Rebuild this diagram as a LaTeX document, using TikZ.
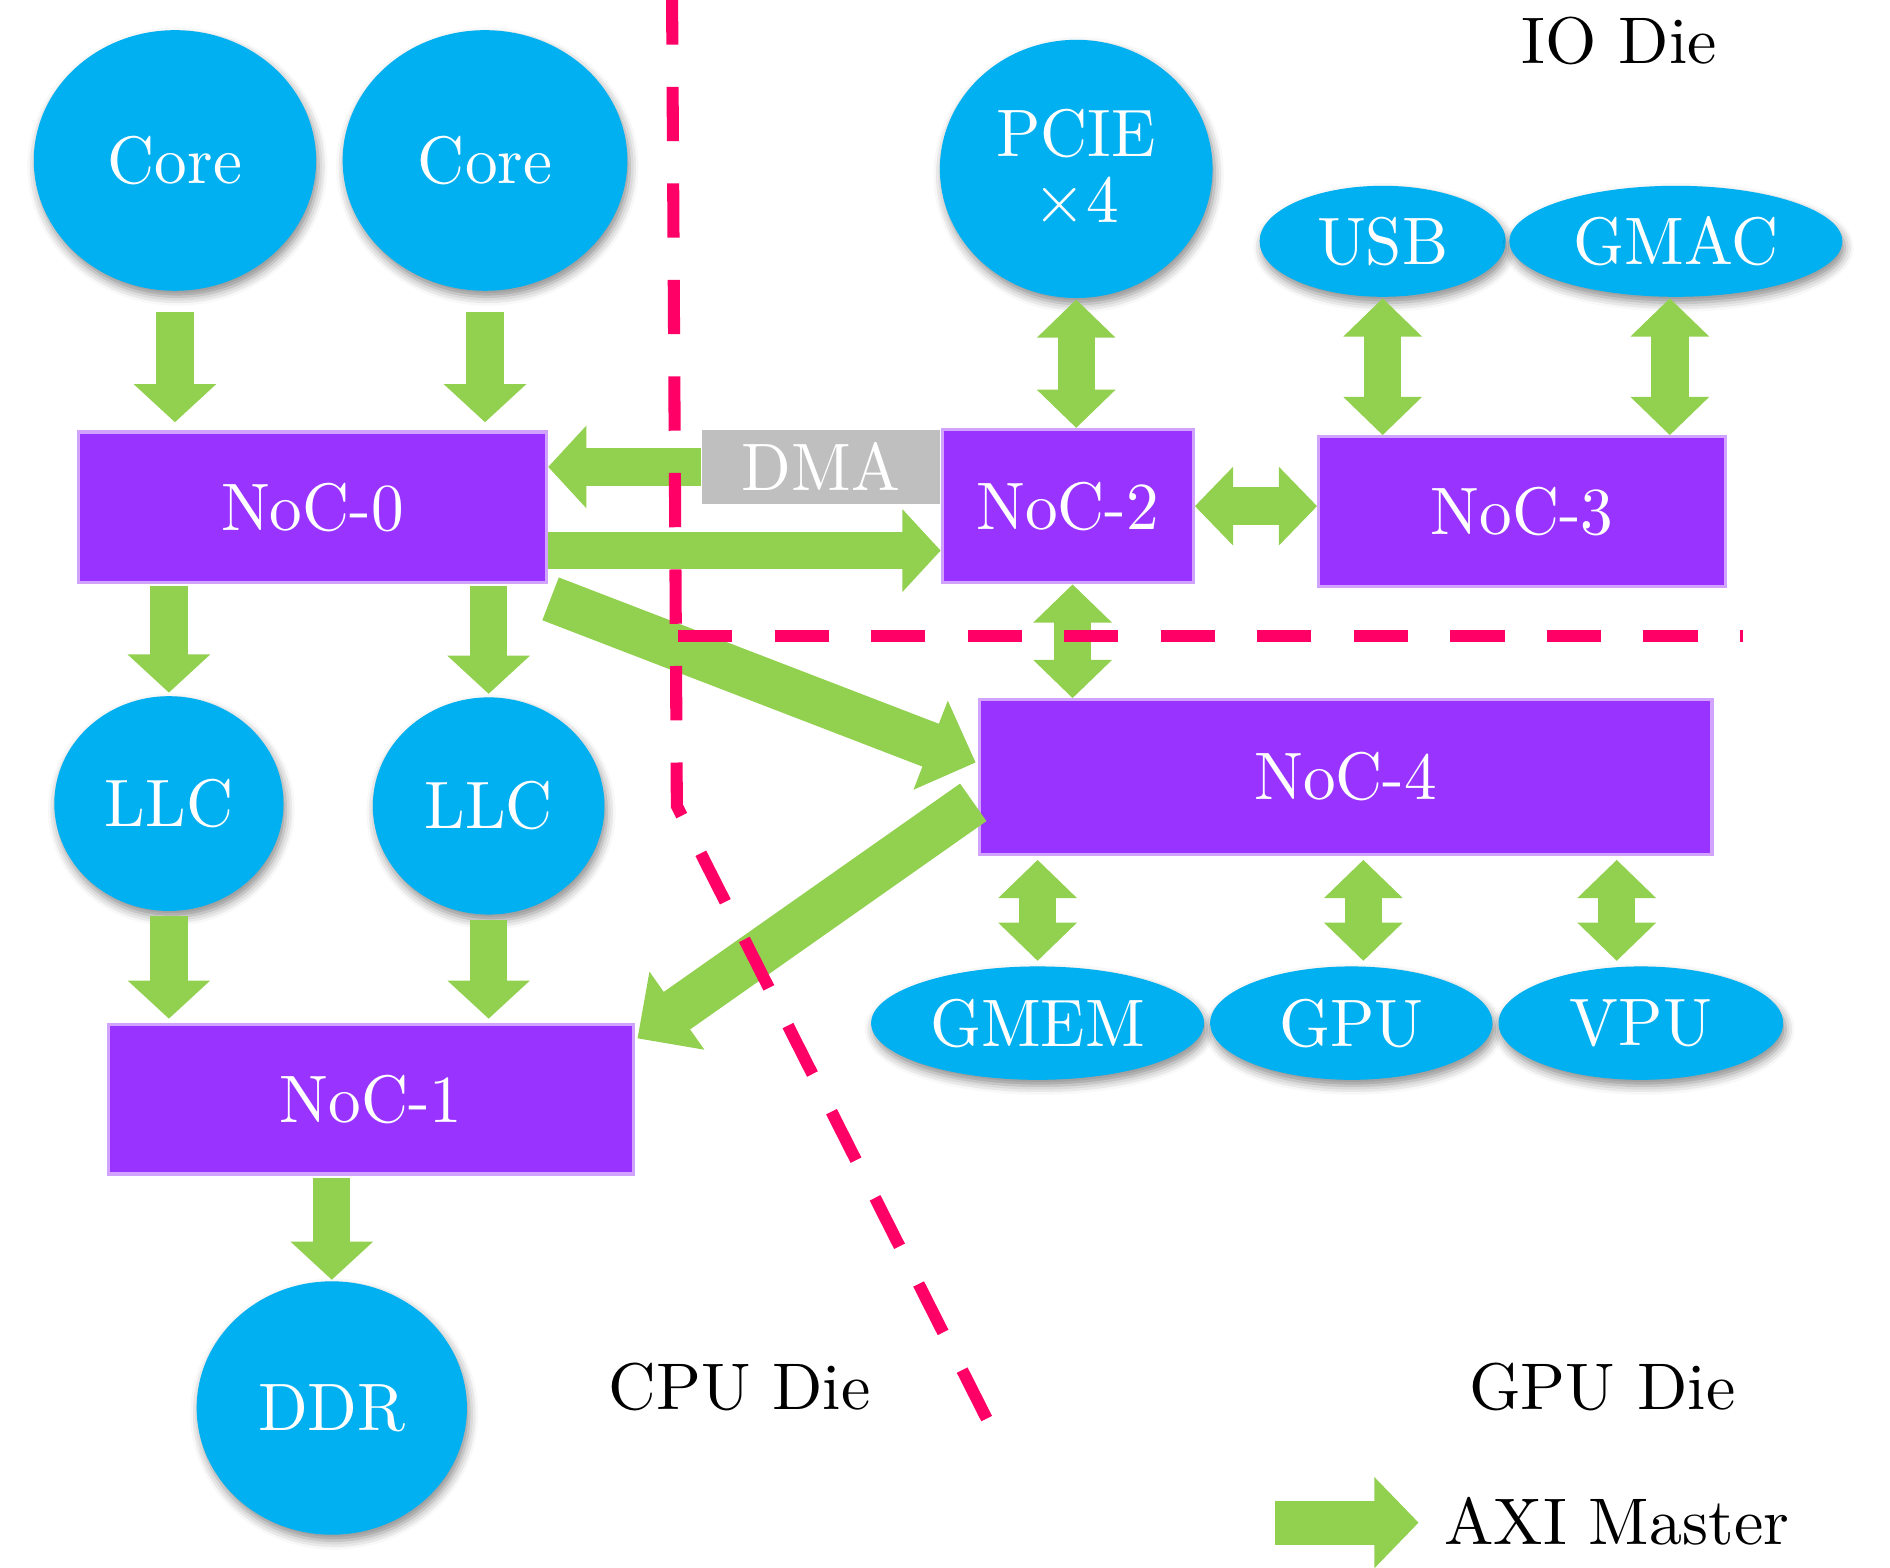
\documentclass[tikz,border=0pt]{standalone}
\usepackage{fontspec}
\setmainfont{lmroman10-regular.otf}
\usetikzlibrary{shapes.geometric,arrows.meta,calc,shadows.blur}

\definecolor{bubcyan}{RGB}{0,176,240}
\definecolor{nocpurple}{RGB}{153,51,255}
\definecolor{axigreen}{RGB}{146,208,80}
\definecolor{diered}{RGB}{255,0,102}
\definecolor{dmagray}{RGB}{191,191,191}

\newcommand{\bubfont}{\fontsize{16.7}{16.4}\selectfont}
\newcommand{\diefont}{\fontsize{16.4}{19}\selectfont}
\newcommand{\nar}[1]{\scalebox{0.97}[1]{#1}}

\tikzset{every picture/.style={line width=0.75pt}}
\tikzset{
  bub/.style={ellipse, fill=bubcyan, text=white, inner sep=0pt, font=\bubfont, align=center,
    blur shadow={shadow xshift=0.6pt, shadow yshift=-1.5pt, shadow blur radius=2.2pt, shadow opacity=45}},
  noc/.style={rectangle, fill=nocpurple, draw=nocpurple!45, line width=0.8pt, text=white, inner sep=0pt, font=\bubfont},
  dmabox/.style={rectangle, fill=dmagray, text=white, inner sep=0pt, font=\bubfont},
  fat/.style={draw=axigreen, line width=9.3pt, -{Triangle[width=20pt,length=9.5pt]}},
  fatboth/.style={draw=axigreen, line width=9.3pt, {Triangle[width=19pt,length=9.5pt]}-{Triangle[width=19pt,length=9.5pt]}},
  fatdiag/.style={draw=axigreen, line width=11.4pt, -{Triangle[width=23pt,length=12pt]}},
  fatleg/.style={draw=axigreen, line width=11pt, -{Triangle[width=22pt,length=11pt]}},
  diecut/.style={draw=diered, line width=3pt, dash pattern=on 13.5pt off 10.5pt},
  dielabel/.style={font=\diefont, anchor=base, inner sep=0pt},
}

\begin{document}
\begin{tikzpicture}[x=0.3pt,y=0.3pt,yscale=-1,xscale=1]
\useasboundingbox (0,0) rectangle (1566.5,1298.8);

% CPU die
\node[bub, minimum width=70.2pt, minimum height=64.8pt] (core1) at (145,133) {\nar{Core}};
\node[bub, minimum width=70.8pt, minimum height=64.8pt] (core2) at (402,133) {\nar{Core}};
\node[noc, minimum width=116.4pt, minimum height=37.5pt] (noc0) at (259,420.5) {\nar{NoC-0}};
\node[bub, minimum width=57pt, minimum height=53.4pt] (llc1) at (140,666) {\nar{LLC}};
\node[bub, minimum width=57.6pt, minimum height=54pt] (llc2) at (405,668) {\nar{LLC}};
\node[noc, minimum width=130.5pt, minimum height=37.2pt] (noc1) at (307.5,911) {\nar{NoC-1}};
\node[bub, minimum width=67.2pt, minimum height=63pt] (ddr) at (275,1167) {\nar{DDR}};

% IO die
\node[bub, minimum width=67.8pt, minimum height=64.2pt] (pcie) at (892,140) {\nar{PCIE}\\\nar{$\times$4}};
\node[bub, minimum width=61.2pt, minimum height=27.6pt] (usb) at (1146,200) {\nar{USB}};
\node[bub, minimum width=82.8pt, minimum height=27.6pt] (gmac) at (1389,200) {\nar{GMAC}};
\node[dmabox, minimum width=59.1pt, minimum height=18.6pt] (dma) at (680.5,387) {\nar{DMA}};
\node[noc, minimum width=62.4pt, minimum height=38.1pt] (noc2) at (885,419.5) {\nar{NoC-2}};
\node[noc, minimum width=101.1pt, minimum height=37.2pt] (noc3) at (1261.5,424) {\nar{NoC-3}};

% GPU die
\node[noc, minimum width=182.1pt, minimum height=38.4pt] (noc4) at (1115.5,644) {\nar{NoC-4}};
\node[bub, minimum width=82.8pt, minimum height=28.2pt] (gmem) at (860,848) {\nar{GMEM}};
\node[bub, minimum width=70.2pt, minimum height=28.2pt] (gpu) at (1120,848) {\nar{GPU}};
\node[bub, minimum width=70.8pt, minimum height=28.2pt] (vpu) at (1360,848) {\nar{VPU}};

% die names and legend
\node[dielabel] (iodie) at (1342,53) {IO Die};
\node[dielabel] (cpudie) at (613,1168) {CPU Die};
\node[dielabel] (gpudie) at (1328,1168) {GPU Die};
\node[dielabel] (axi) at (1340,1280) {AXI Master};
\coordinate (leg) at (1057,1262);

% AXI master arrows
\draw[fat, shorten <=4.8pt, shorten >=2pt] (core1.south) -- (core1.south |- noc0.north);
\draw[fat, shorten <=4.8pt, shorten >=2pt] (core2.south) -- (core2.south |- noc0.north);
\draw[fat, shorten <=0.5pt, shorten >=0.5pt] (noc0.south -| llc1.north) -- (llc1.north);
\draw[fat, shorten <=0.5pt, shorten >=0.5pt] (noc0.south -| llc2.north) -- (llc2.north);
\draw[fat, shorten <=1pt, shorten >=1pt] (llc1.south) -- (llc1.south |- noc1.north);
\draw[fat, shorten <=1pt, shorten >=1pt] (llc2.south) -- (llc2.south |- noc1.north);
\draw[fat, shorten <=0.5pt] (noc1.south -| ddr.north) -- (ddr.north);
\draw[fat] (dma.west) -- (dma.west -| noc0.east);
\draw[fat] ($(noc0.south east)+(0,-28)$) coordinate (h0) -- (h0 -| noc2.west);
\draw[fatdiag] ($(noc0.south east)+(2,12)$) -- ($(noc4.west)+(-2,-12)$);
\draw[fatdiag] ($(noc4.west)+(-4,21)$) -- ($(noc1.north east)+(2,13)$);

% bidirectional links
\draw[fatboth] (pcie.south) -- (pcie.south |- noc2.north);
\draw[fatboth] (usb.south) -- (usb.south |- noc3.north);
\draw[fatboth] ($(gmac.south)+(-5,0)$) coordinate (gm) -- (gm |- noc3.north);
\draw[fatboth] (noc2.east) -- (noc2.east -| noc3.west);
\draw[fatboth] ($(noc2.south)+(4,0)$) coordinate (n2) -- (n2 |- noc4.north);
\draw[fatboth, shorten <=1pt, shorten >=1pt] (gmem.north |- noc4.south) -- (gmem.north);
\draw[fatboth, shorten <=1pt, shorten >=1pt] ($(gpu.north)+(10,0)$) coordinate (gp) -- (gp |- noc4.south);
\draw[fatboth, shorten <=1pt, shorten >=1pt] ($(vpu.north)+(-20,0)$) coordinate (vp) -- (vp |- noc4.south);

% legend arrow
\draw[fatleg, shorten >=6pt] (leg) -- (leg -| axi.west);

% die borders
\draw[diecut] (557,-8) -- (561,668) -- (826,1192);
\draw[diecut] (562,527) -- (1445,527);

\end{tikzpicture}
\end{document}
